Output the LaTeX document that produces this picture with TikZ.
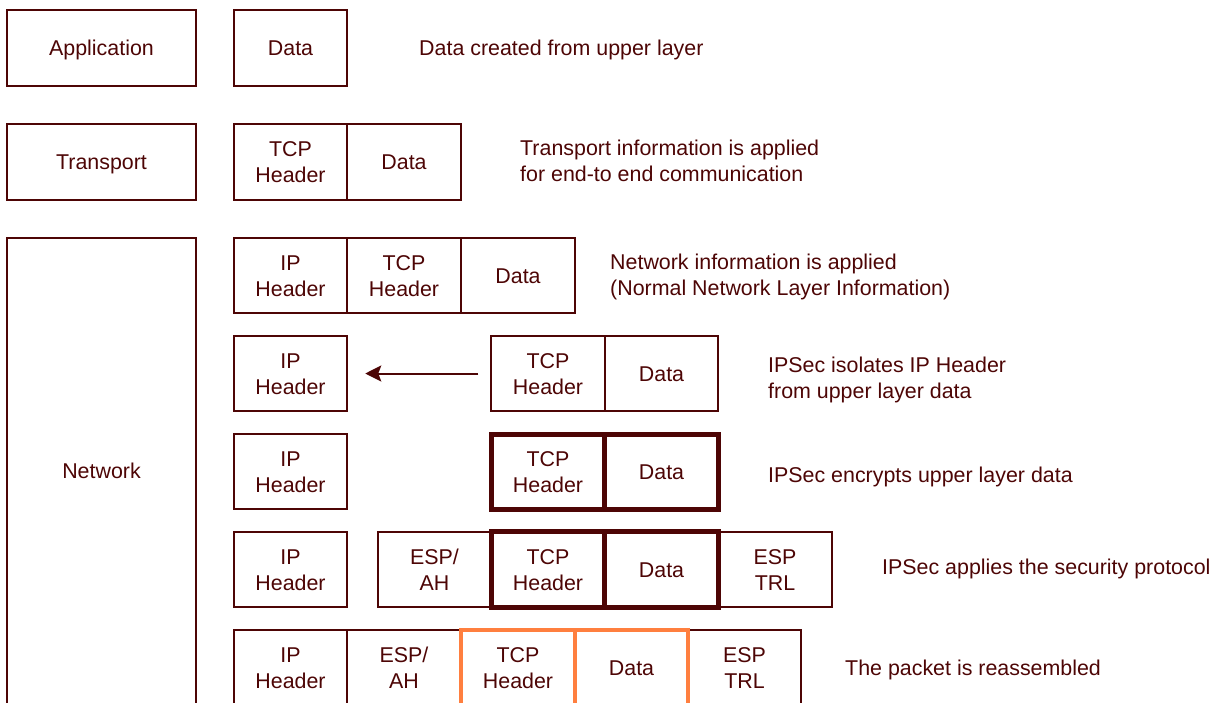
\documentclass[tikz,border=0pt]{standalone}
\usepackage{fontspec}
\setmainfont{Liberation Sans}
\usetikzlibrary{arrows.meta}
\definecolor{ink}{RGB}{77,5,5}
\definecolor{hl}{RGB}{255,127,63}
\newcommand\lblfont{\fontsize{21.4}{26}\selectfont}

\begin{document}
\begin{tikzpicture}[x=1pt,y=-1pt,
  cell/.style={draw=ink, line width=1.8pt, minimum width=113.5pt, minimum height=75.5pt,
               inner sep=0pt, outer sep=0pt, text=ink, font=\lblfont, align=center},
  layer/.style={cell, minimum width=189pt},
  one/.style={text height=15.3pt, text depth=0pt},
  two/.style={text height=41.3pt, text depth=0pt},
  enc/.style={line width=4.6pt},
  reas/.style={draw=hl, line width=4pt},
  note/.style={anchor=west, text=ink, font=\lblfont, align=left, inner sep=0pt},
  move/.style={-{Stealth[length=16pt,width=16pt,inset=3pt]}, draw=ink, line width=2pt}]
\useasboundingbox (0,0) rectangle (1219,702);

% layer names
\node[layer, one] (app)   at (101.5,48)  {Application};
\node[layer, one] (trans) at (101.5,162) {Transport};
\node[layer, one, minimum height=466pt] (net) at (101.5,471) {Network};

% application layer
\node[cell, one] (d1) at (290.5,48) {Data};
\node[note, one] (n1) at (419,48) {Data created from upper layer};

% transport layer
\node[cell, two] (t2) at (290.5,162) {TCP\\Header};
\node[cell, one] (d2) at (404,162)   {Data};
\node[note, two] (n2) at (520,161) {Transport information is applied\\for end-to end communication};

% network layer
\node[cell, two] (ip3) at (290.5,275.5) {IP\\Header};
\node[cell, two] (t3)  at (404,275.5)   {TCP\\Header};
\node[cell, one] (d3)  at (518,275.5)   {Data};
\node[note, two] (n3) at (610,274.5) {Network information is applied\\(Normal Network Layer Information)};

% IPSec separates the header
\node[cell, two] (ip4) at (290.5,373.5) {IP\\Header};
\node[cell, two] (t4)  at (548,373.5)   {TCP\\Header};
\node[cell, one] (d4)  at (661.5,373.5) {Data};
\draw[move, shorten <=13pt, shorten >=18pt] (t4) -- (ip4);
\node[note, two] (n4) at (768,377.5) {IPSec isolates IP Header\\from upper layer data};

% IPSec encrypts
\node[cell, two] (ip5) at (290.5,471.5) {IP\\Header};
\node[cell, two, enc] (t5) at (548,472)   {TCP\\Header};
\node[cell, one, enc] (d5) at (661.5,472) {Data};
\node[note, one] (n5) at (768,475) {IPSec encrypts upper layer data};

% security protocol applied
\node[cell, two] (ip6)  at (290.5,569.5) {IP\\Header};
\node[cell, two] (esp6) at (434.5,569.5) {ESP/\\AH};
\node[cell, two] (trl6) at (775,569.5)   {ESP\\TRL};
\node[cell, two, enc] (t6) at (548,569.5)   {TCP\\Header};
\node[cell, one, enc] (d6) at (661.5,569.5) {Data};
\node[note, one] (n6) at (882,567) {IPSec applies the security protocol};

% reassembled packet
\node[cell, two] (ip7)  at (290.5,668) {IP\\Header};
\node[cell, two] (esp7) at (404,668)   {ESP/\\AH};
\node[cell, two] (trl7) at (744.5,668) {ESP\\TRL};
\node[cell, two, reas] (t7) at (518,668)   {TCP\\Header};
\node[cell, one, reas] (d7) at (631.5,668) {Data};
\node[note, one] (n7) at (845,668) {The packet is reassembled};
\end{tikzpicture}
\end{document}
